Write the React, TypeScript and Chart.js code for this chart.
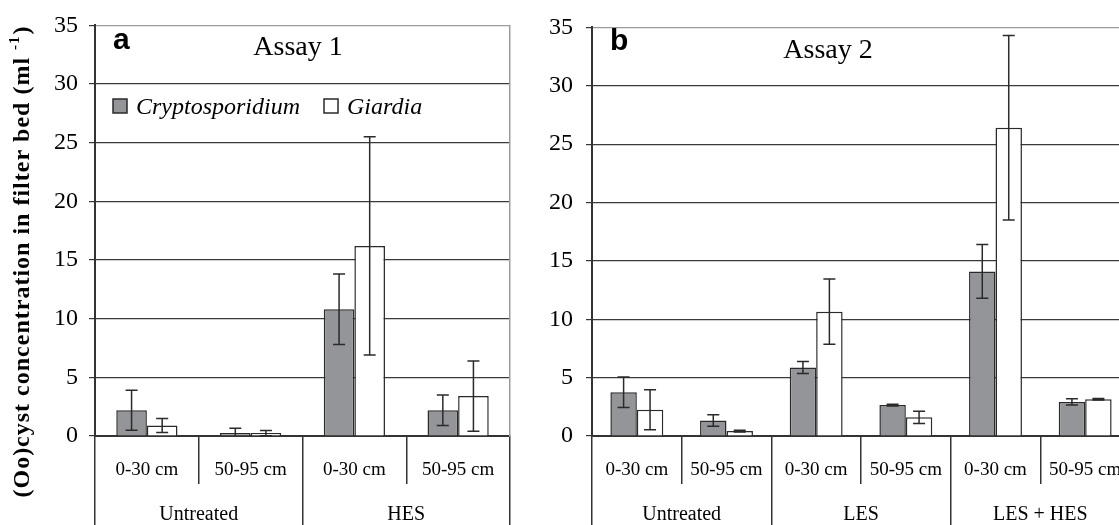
import React, { useEffect, useRef } from 'react';
import { Chart, registerables } from 'chart.js';

Chart.register(...registerables);

// ---------- data ----------
const depthLabelsA = ['0-30 cm', '50-95 cm', '0-30 cm', '50-95 cm'];
const groupLabelsA = ['Untreated', 'HES'];
const cryptoA = [2.2, 0.25, 10.8, 2.2];
const cryptoErrA = [1.7, 0.4, 3.0, 1.3];
const giardiaA = [0.9, 0.25, 16.2, 3.4];
const giardiaErrA = [0.6, 0.22, 9.3, 3.0];

const depthLabelsB = ['0-30 cm', '50-95 cm', '0-30 cm', '50-95 cm', '0-30 cm', '50-95 cm'];
const groupLabelsB = ['Untreated', 'LES', 'LES + HES'];
const cryptoB = [3.75, 1.33, 5.87, 2.65, 14.1, 2.92];
const cryptoErrB = [1.3, 0.5, 0.52, 0.08, 2.3, 0.27];
const giardiaB = [2.25, 0.42, 10.65, 1.6, 26.4, 3.15];
const giardiaErrB = [1.72, 0.08, 2.8, 0.53, 7.9, 0.07];

const seriesNames = ['Cryptosporidium', 'Giardia'];
const yMin = 0;
const yMax = 35;
const yStep = 5;

// ---------- styles ----------
const SERIF = "'Liberation Serif', 'Times New Roman', serif";
const SANS = "'Liberation Sans', Arial, sans-serif";
const GRAY = '#939598';
const EDGE = '#2a2a2a';
const GRID = '#3a3a3a';
const BORDER_LIGHT = '#9c9c9c';

const errorBarPlugin = {
  id: 'errorBars',
  afterDatasetsDraw(chart: any) {
    const { ctx } = chart;
    const yScale = chart.scales.y;
    ctx.save();
    ctx.strokeStyle = EDGE;
    ctx.lineWidth = 1.5;
    chart.data.datasets.forEach((ds: any, i: number) => {
      const meta = chart.getDatasetMeta(i);
      meta.data.forEach((bar: any, j: number) => {
        const v = ds.data[j];
        const e = ds.errors[j];
        const x = bar.x;
        const yTop = yScale.getPixelForValue(v + e);
        const lowVal = v - e;
        const yBot = yScale.getPixelForValue(Math.max(0, lowVal));
        ctx.beginPath();
        ctx.moveTo(x, yTop);
        ctx.lineTo(x, yBot);
        ctx.moveTo(x - 6, yTop);
        ctx.lineTo(x + 6, yTop);
        if (lowVal > 0) {
          ctx.moveTo(x - 6, yBot);
          ctx.lineTo(x + 6, yBot);
        }
        ctx.stroke();
      });
    });
    ctx.restore();
  },
};

const decorPlugin = {
  id: 'decor',
  afterDraw(chart: any, _args: any, opts: any) {
    const { ctx, chartArea } = chart;
    ctx.save();
    ctx.fillStyle = '#000';
    ctx.textBaseline = 'alphabetic';
    ctx.textAlign = 'left';
    ctx.font = `bold 30px ${SANS}`;
    ctx.fillText(opts.letter, chartArea.left + opts.letterDx, opts.letterY);
    ctx.textAlign = 'center';
    ctx.font = `28px ${SERIF}`;
    ctx.fillText(opts.title, chartArea.left + opts.titleDx, opts.titleY);

    if (opts.legend) {
      // legend built from the chart's own datasets
      let x = chartArea.left + 18;
      const boxTop = opts.legendY - 15;
      ctx.textAlign = 'left';
      ctx.font = `italic 24px ${SERIF}`;
      chart.data.datasets.forEach((ds: any) => {
        ctx.fillStyle = ds.backgroundColor;
        ctx.fillRect(x, boxTop, 14, 14);
        ctx.strokeStyle = ds.borderColor;
        ctx.lineWidth = 1.5;
        ctx.strokeRect(x, boxTop, 14, 14);
        ctx.fillStyle = '#000';
        ctx.fillText(ds.label, x + 23, opts.legendY);
        x += 23 + ctx.measureText(ds.label).width + 24;
      });
    }

    if (opts.yTitle) {
      const main = '(Oo)cyst concentration in filter bed (ml ';
      const sup = '-1';
      const end = ')';
      const f1 = `bold 24px ${SERIF}`;
      const f2 = `bold 15px ${SERIF}`;
      ctx.fillStyle = '#000';
      ctx.translate(opts.yTitleX, opts.yTitleY);
      ctx.rotate(-Math.PI / 2);
      (ctx as any).letterSpacing = '1px';
      ctx.font = f1;
      const w1 = ctx.measureText(main).width;
      const w3 = ctx.measureText(end).width;
      ctx.font = f2;
      const w2 = ctx.measureText(sup).width;
      let x = -(w1 + w2 + w3) / 2;
      ctx.textAlign = 'left';
      ctx.font = f1;
      ctx.fillText(main, x, 0);
      x += w1;
      ctx.font = f2;
      ctx.fillText(sup, x, -10);
      x += w2 + 1;
      ctx.font = f1;
      ctx.fillText(end, x, 0);
    }
    ctx.restore();
  },
};

function buildConfig(p: any): any {
  return {
    type: 'bar',
    data: {
      labels: p.depths,
      datasets: [
        {
          label: seriesNames[0],
          data: p.crypto,
          errors: p.cryptoErr,
          backgroundColor: GRAY,
          borderColor: EDGE,
          borderWidth: 1.5,
          categoryPercentage: 0.59,
          barPercentage: 1,
        },
        {
          label: seriesNames[1],
          data: p.giardia,
          errors: p.giardiaErr,
          backgroundColor: '#ffffff',
          borderColor: EDGE,
          borderWidth: 1.5,
          categoryPercentage: 0.59,
          barPercentage: 1,
        },
      ],
    },
    options: {
      responsive: false,
      maintainAspectRatio: false,
      animation: false,
      events: [],
      layout: { padding: { left: 0, right: 10, top: 21, bottom: 0 } },
      scales: {
        x: {
          type: 'category',
          position: 'bottom',
          weight: 0,
          offset: true,
          grid: {
            offset: true,
            drawOnChartArea: false,
            drawTicks: true,
            tickLength: 48,
            color: '#333',
            lineWidth: 1.5,
          },
          border: { display: true, color: '#333', width: 2 },
          ticks: {
            font: { family: SERIF, size: 19 },
            color: '#000',
            padding: -25,
            autoSkip: false,
            maxRotation: 0,
            minRotation: 0,
          },
          afterFit: (s: any) => {
            s.height = 48;
          },
        },
        x2: {
          type: 'category',
          position: 'bottom',
          weight: 1,
          labels: p.groups,
          offset: true,
          grid: {
            offset: true,
            drawOnChartArea: false,
            drawTicks: true,
            tickLength: 41,
            color: '#333',
            lineWidth: 1.5,
          },
          border: { display: false },
          ticks: {
            font: { family: SERIF, size: 20 },
            color: '#000',
            padding: -22,
            autoSkip: false,
            maxRotation: 0,
            minRotation: 0,
          },
          afterFit: (s: any) => {
            s.height = 41;
          },
        },
        y: {
          position: 'left',
          min: yMin,
          max: yMax,
          ticks: {
            stepSize: yStep,
            font: { family: SERIF, size: 24 },
            color: '#000',
            padding: p.tickPad,
          },
          grid: {
            color: (c: any) => (c.tick && c.tick.value === yMax ? BORDER_LIGHT : GRID),
            tickColor: '#333',
            lineWidth: 1.2,
            tickLength: 6,
            drawTicks: true,
          },
          border: { display: true, color: '#333', width: 2 },
          afterFit: (s: any) => {
            s.width = p.yWidth;
          },
        },
        y2: {
          position: 'right',
          min: yMin,
          max: yMax,
          grid: { display: false, drawTicks: false },
          ticks: { display: false },
          border: { display: true, color: BORDER_LIGHT, width: 1.5 },
          afterFit: (s: any) => {
            s.width = 0;
          },
        },
      },
      plugins: {
        tooltip: { enabled: false },
        legend: { display: false },
        decor: p.decor,
      },
    },
    plugins: [errorBarPlugin, decorPlugin],
  };
}

export default function App() {
  const refA = useRef<HTMLCanvasElement>(null);
  const refB = useRef<HTMLCanvasElement>(null);

  useEffect(() => {
    const a = new Chart(
      refA.current as HTMLCanvasElement,
      buildConfig({
        depths: depthLabelsA,
        groups: groupLabelsA,
        crypto: cryptoA,
        cryptoErr: cryptoErrA,
        giardia: giardiaA,
        giardiaErr: giardiaErrA,
        yWidth: 95,
        tickPad: 11,
        decor: {
          letter: 'a',
          letterDx: 18,
          letterY: 49,
          title: 'Assay 1',
          titleDx: 203,
          titleY: 55,
          legend: true,
          legendY: 114,
          yTitle: true,
          yTitleX: 29,
          yTitleY: 262,
        },
      })
    );
    const b = new Chart(
      refB.current as HTMLCanvasElement,
      buildConfig({
        depths: depthLabelsB,
        groups: groupLabelsB,
        crypto: cryptoB,
        cryptoErr: cryptoErrB,
        giardia: giardiaB,
        giardiaErr: giardiaErrB,
        yWidth: 72,
        tickPad: 13,
        decor: {
          letter: 'b',
          letterDx: 18,
          letterY: 50,
          title: 'Assay 2',
          titleDx: 236,
          titleY: 58,
          legend: false,
          yTitle: false,
        },
      })
    );
    return () => {
      a.destroy();
      b.destroy();
    };
  }, []);

  return (
    <div
      style={{
        position: 'absolute',
        left: 0,
        top: 0,
        width: 1119,
        height: 525,
        overflow: 'hidden',
        background: '#ffffff',
      }}
    >
      <canvas
        ref={refA}
        width={520}
        height={525}
        style={{ position: 'absolute', left: 0, top: 0, width: 520, height: 525 }}
      />
      <canvas
        ref={refB}
        width={620}
        height={525}
        style={{ position: 'absolute', left: 520, top: 0, width: 620, height: 525 }}
      />
    </div>
  );
}
